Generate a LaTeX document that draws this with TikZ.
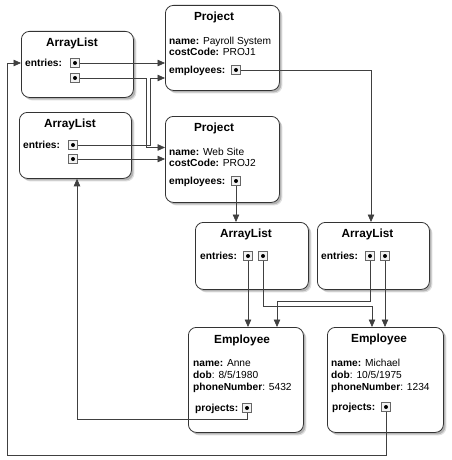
\documentclass[tikz,border=0pt]{standalone}
\usepackage{fontspec}
\setmainfont{Liberation Sans}
\usetikzlibrary{shadows,arrows.meta}
\begin{document}
\begin{tikzpicture}[x=1pt,y=-1pt]
\tikzset{
 obj/.style={draw=black!80, line width=0.8pt, rounded corners=8pt, fill=white, anchor=north west, inner sep=0,
   drop shadow={shadow xshift=3pt, shadow yshift=-3pt, opacity=0.25},
   drop shadow={shadow xshift=2pt, shadow yshift=-2pt, opacity=0.45}},
 ptr/.style={draw=black!60, line width=0.6pt, fill=black!5, minimum size=8.5pt, inner sep=0,
   path picture={\fill[black] (path picture bounding box.center) circle (2pt);}},
 conn/.style={draw=black!75, line width=0.7pt},
 arr/.style={conn, -{Triangle[length=7.5pt,width=6.5pt]}},
 ttl/.style={font=\fontsize{11.8}{13}\selectfont\bfseries, inner sep=0, text height=8.4pt, text depth=0pt},
 txt/.style={font=\fontsize{10.2}{12}\selectfont, anchor=west, inner sep=0, text height=7.3pt, text depth=0pt},
 lbl/.style={txt, font=\fontsize{10.2}{12}\selectfont\bfseries},
}
\useasboundingbox (0,0) rectangle (451,460);
\fill[white] (0,0) rectangle (451,460);

% boxes
\node[obj, minimum width=112pt, minimum height=66pt] (a1) at (21,31) {};
\node[obj, minimum width=112pt, minimum height=66pt] (a2) at (19,112) {};
\node[obj, minimum width=114pt, minimum height=85pt] (p1) at (165,5) {};
\node[obj, minimum width=114pt, minimum height=86pt] (p2) at (165,116) {};
\node[obj, minimum width=113pt, minimum height=67pt] (a3) at (195,222) {};
\node[obj, minimum width=112pt, minimum height=67pt] (a4) at (317,222) {};
\node[obj, minimum width=115pt, minimum height=105pt] (e1) at (188,327) {};
\node[obj, minimum width=116pt, minimum height=105pt] (e2) at (327,327) {};

% ArrayList 1
\node[ttl] (a1t) at (72,42) {ArrayList};
\node[lbl] (a1l) at (25,63) {entries:};
\node[ptr] (a1e1) at (75,63) {};
\node[ptr] (a1e2) at (75,78) {};

% ArrayList 2
\node[ttl] (a2t) at (70,123) {ArrayList};
\node[lbl] (a2l) at (23,145) {entries:};
\node[ptr] (a2e1) at (73,145) {};
\node[ptr] (a2e2) at (73,159) {};

% Project 1
\node[ttl] (p1t) at (214,16) {Project};
\node[txt] (p1n) at (169,41) {\textbf{name:} Payroll System};
\node[txt] (p1c) at (169,52) {\textbf{costCode:} PROJ1};
\node[lbl] (p1l) at (169,70) {employees:};
\node[ptr] (p1e) at (236,70) {};

% Project 2
\node[ttl] (p2t) at (214,127) {Project};
\node[txt] (p2n) at (169,151.5) {\textbf{name:} Web Site};
\node[txt] (p2c) at (169,163) {\textbf{costCode:} PROJ2};
\node[lbl] (p2l) at (169,181) {employees:};
\node[ptr] (p2e) at (236,181) {};

% ArrayList 3
\node[ttl] (a3t) at (246,233) {ArrayList};
\node[lbl] (a3l) at (200,256) {entries:};
\node[ptr] (a3e1) at (248,256) {};
\node[ptr] (a3e2) at (263,256) {};

% ArrayList 4
\node[ttl] (a4t) at (367.5,233) {ArrayList};
\node[lbl] (a4l) at (321,256) {entries:};
\node[ptr] (a4e1) at (370,256) {};
\node[ptr] (a4e2) at (385,256) {};

% Employee 1
\node[ttl] (e1t) at (242,339) {Employee};
\node[txt] (e1n) at (193,363) {\textbf{name:} Anne};
\node[txt] (e1d) at (193,375) {\textbf{dob}: 8/5/1980};
\node[txt] (e1ph) at (193,387) {\textbf{phoneNumber}: 5432};
\node[lbl] (e1l) at (195,408) {projects:};
\node[ptr] (e1p) at (247,408) {};

% Employee 2
\node[ttl] (e2t) at (379,338) {Employee};
\node[txt] (e2n) at (331,363) {\textbf{name:} Michael};
\node[txt] (e2d) at (331,375) {\textbf{dob}: 10/5/1975};
\node[txt] (e2ph) at (331,387) {\textbf{phoneNumber}: 1234};
\node[lbl] (e2l) at (332,407) {projects:};
\node[ptr] (e2p) at (386,407) {};

% bend points
\coordinate (k2) at (146,147.5);
\coordinate (k3) at (150,78);
\coordinate (k5) at (371,70);
\coordinate (k8) at (372,306);
\coordinate (k9) at (277,301);
\coordinate (k11) at (77,419);
\coordinate (k12) at (7,455);

% connectors
\draw[arr] (a1e1.east) -- (a1e1.east -| p1.west);
\draw[arr] (a1e2.east) -| (k2) -- (k2 -| p2.west);
\draw[arr] (a2e1.east) -| (k3) -- (k3 -| p1.west);
\draw[arr] (a2e2.east) -- (a2e2.east -| p2.west);
\draw[arr] (p1e.east) -- (k5) -- (k5 |- a4.north);
\draw[arr] (p2e.south) -- (p2e.south |- a3.north);
\draw[arr] (a3e1.south) -- (a3e1.south |- e1.north);
\draw[arr] (a3e2.south) |- (k8) -- (k8 |- e2.north);
\draw[arr] (a4e1.south) |- (k9) -- (k9 |- e1.north);
\draw[arr] (a4e2.south) -- (a4e2.south |- e2.north);
\draw[arr] (e1p.south) |- (k11) -- (k11 |- a2.south);
\draw[arr] (e2p.south) |- (k12) |- (a1.west |- a1e1);
\end{tikzpicture}
\end{document}
